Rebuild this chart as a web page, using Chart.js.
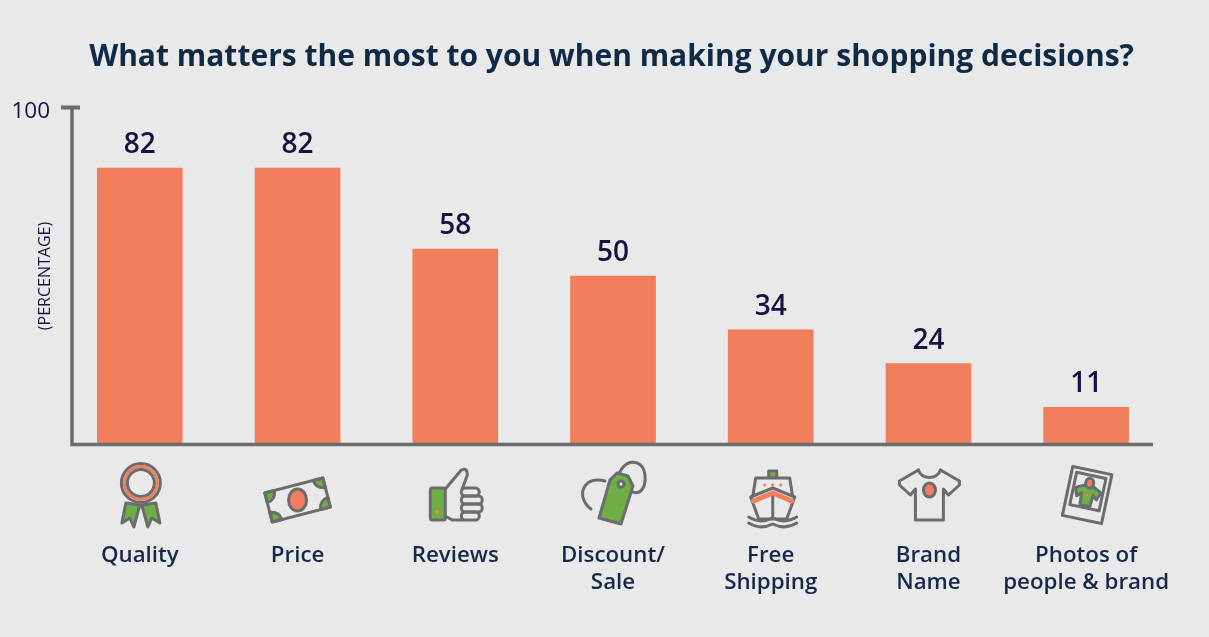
<!DOCTYPE html>
<html>
<head>
<meta charset="utf-8">
<title>Shopping decisions</title>
<script src="https://cdn.jsdelivr.net/npm/chart.js@4"></script>
<style>
    html, body { margin: 0; padding: 0; background: #e9e9e9; }
    canvas { display: block; }
</style>
</head>
<body>
<canvas id="chartDecisions" width="1209" height="637"></canvas>
<script>
const categories = [
    'Quality',
    'Price',
    'Reviews',
    ['Discount/', 'Sale'],
    ['Free', 'Shipping'],
    ['Brand', 'Name'],
    ['Photos of', 'people & brand']
];
const percentages = [82, 82, 58, 50, 34, 24, 11];
const yTicks = [100];

const GRAY = '#6b6c6e';
const GREEN = '#6fae44';
const ORANGE = '#f17e5c';
const NAVY = '#15133f';

function shape(ctx, pts, fill, close = true) {
    ctx.beginPath();
    pts.forEach((p, i) => i ? ctx.lineTo(p[0], p[1]) : ctx.moveTo(p[0], p[1]));
    if (close) ctx.closePath();
    if (fill) { ctx.fillStyle = fill; ctx.fill(); }
    ctx.stroke();
}

function dot(ctx, x, y, rx, ry, fill, stroke = true) {
    ctx.beginPath();
    ctx.ellipse(x, y, rx, ry, 0, 0, Math.PI * 2);
    if (fill) { ctx.fillStyle = fill; ctx.fill(); }
    if (stroke) ctx.stroke();
}

// los iconos van centrados en (0,0), 1 unidad = 1 px
const icons = [
    function ribbon(ctx) {
        shape(ctx, [[-15, 8], [-19, 28], [-11, 23], [-7, 32], [-1, 10]], GREEN);
        shape(ctx, [[15, 8], [19, 28], [11, 23], [7, 32], [1, 10]], GREEN);
        dot(ctx, 0, -12, 19.5, 19.5, '#e9e9e9');
        ctx.strokeStyle = ORANGE;
        dot(ctx, 0, -12, 16.5, 16.5);
        ctx.strokeStyle = GRAY;
        dot(ctx, 0, -12, 13.5, 13.5, '#e9e9e9');
    },
    function money(ctx) {
        ctx.rotate(-14.5 * Math.PI / 180);
        ctx.fillStyle = GREEN;
        [[-30, -15, 1, 1], [30, -15, -1, 1], [-30, 15, 1, -1], [30, 15, -1, -1]].forEach(c => {
            ctx.beginPath();
            ctx.moveTo(c[0], c[1]);
            ctx.lineTo(c[0] + c[2] * 10, c[1]);
            ctx.quadraticCurveTo(c[0] + c[2] * 9, c[1] + c[3] * 9, c[0], c[1] + c[3] * 10);
            ctx.closePath();
            ctx.fill();
            ctx.stroke();
        });
        ctx.strokeRect(-30, -15, 60, 30);
        ctx.rotate(14.5 * Math.PI / 180);
        dot(ctx, 0, 0, 9, 11, ORANGE);
    },
    function thumb(ctx) {
        ctx.beginPath();
        ctx.roundRect(-25, -7, 15, 32, 2);
        ctx.fillStyle = GREEN;
        ctx.fill();
        ctx.stroke();
        dot(ctx, -18, 17, 2, 2, ORANGE, false);
        ctx.beginPath();
        ctx.moveTo(-10, -6);
        ctx.lineTo(6, -25);
        ctx.quadraticCurveTo(12, -28, 12, -20);
        ctx.lineTo(7, -6);
        ctx.moveTo(-10, 21);
        ctx.lineTo(-3, 25);
        ctx.lineTo(8, 25);
        ctx.stroke();
        [-7, 1, 9, 17].forEach((y, i) => {
            ctx.beginPath();
            ctx.roundRect(6, y, i === 1 || i === 2 ? 21 : 18, 8, 4);
            ctx.stroke();
        });
    },
    function tag(ctx) {
        ctx.beginPath();
        ctx.moveTo(-22, 14);
        ctx.bezierCurveTo(-38, 2, -30, -20, -8, -14);
        ctx.stroke();
        ctx.beginPath();
        ctx.moveTo(4, -14);
        ctx.bezierCurveTo(8, -38, 30, -38, 32, -20);
        ctx.bezierCurveTo(33, -8, 28, 0, 20, -3);
        ctx.stroke();
        shape(ctx, [[-14, 23], [8, 29], [20, -9], [15, -19], [4, -22], [-3, -15]], GREEN);
        dot(ctx, 8, -11, 3, 3, '#e9e9e9');
    },
    function ship(ctx) {
        ctx.fillStyle = GREEN;
        ctx.fillRect(-4, -24, 8, 7);
        ctx.strokeRect(-4, -24, 8, 7);
        shape(ctx, [[-17, -17], [17, -17], [20, 2], [-20, 2]], '#e9e9e9');
        [-8, 0, 8].forEach(x => dot(ctx, x, -10, 1.6, 1.6, ORANGE, false));
        shape(ctx, [[-22, 2], [0, -7], [22, 2], [14, 24], [-14, 24]], '#e9e9e9');
        ctx.strokeStyle = ORANGE;
        ctx.lineWidth = 5;
        shape(ctx, [[-19, 6], [0, -2], [19, 6]], null, false);
        ctx.strokeStyle = GRAY;
        ctx.lineWidth = 3;
        shape(ctx, [[0, 2], [0, 22]], null, false);
        [24, 30].forEach(y => {
            ctx.beginPath();
            ctx.moveTo(-24, y - 2);
            ctx.bezierCurveTo(-16, y + 3, -8, y + 3, 0, y - 1);
            ctx.bezierCurveTo(8, y + 3, 16, y + 3, 24, y - 2);
            ctx.stroke();
        });
    },
    function shirt(ctx) {
        shape(ctx, [[-11, -25], [-30, -14], [-30, -10], [-19, 0], [-14, -6], [-14, 25], [14, 25], [14, -6], [19, 0], [30, -10], [30, -14], [11, -25]], null, false);
        ctx.beginPath();
        ctx.moveTo(-11, -25);
        ctx.bezierCurveTo(-8, -15, 8, -15, 11, -25);
        ctx.stroke();
        dot(ctx, 0, -5, 6, 7, ORANGE);
    },
    function photo(ctx) {
        ctx.rotate(12 * Math.PI / 180);
        ctx.strokeRect(-20, -25, 40, 50);
        ctx.strokeRect(-15, -20, 30, 33);
        shape(ctx, [[-5, -9], [-13, -5], [-10, 3], [-6, -1], [-5, 11], [5, 11], [6, -1], [10, 3], [13, -5], [5, -9]], GREEN);
        dot(ctx, 0, -12, 4, 5, ORANGE);
        dot(ctx, 0, 0, 1.6, 1.6, ORANGE, false);
    }
];
const iconOffsets = [[1, 0], [0, 5], [0, 0], [0, 0], [2, 0], [1, 0], [1, 0]];

const customDraw = {
    id: 'customDraw',
    afterLayout(chart) {
        // el título no se centra sobre el lienzo en el original
        chart.titleBlock.left = 14;
        chart.titleBlock.right = 1209;
    },
    beforeDraw(chart) {
        const { ctx, width, height } = chart;
        ctx.save();
        ctx.fillStyle = '#e9e9e9';
        ctx.fillRect(0, 0, width, height);
        ctx.restore();
    },
    afterDatasetsDraw(chart) {
        const { ctx, scales: { x, y } } = chart;
        const meta = chart.getDatasetMeta(0);
        const axisX = 72;

        ctx.save();
        ctx.strokeStyle = GRAY;
        ctx.lineWidth = 3.5;
        ctx.beginPath();
        ctx.moveTo(axisX, y.getPixelForValue(100));
        ctx.lineTo(axisX, y.getPixelForValue(0));
        ctx.lineTo(1153, y.getPixelForValue(0));
        ctx.stroke();
        ctx.lineWidth = 4;
        ctx.beginPath();
        ctx.moveTo(61, y.getPixelForValue(100));
        ctx.lineTo(80, y.getPixelForValue(100));
        ctx.stroke();

        ctx.fillStyle = NAVY;
        ctx.font = '600 28px "Open Sans"';
        ctx.textAlign = 'center';
        ctx.textBaseline = 'middle';
        meta.data.forEach((bar, i) => {
            ctx.fillText(percentages[i], bar.x, bar.y - 23);
        });

        icons.forEach((draw, i) => {
            ctx.save();
            ctx.translate(x.getPixelForValue(i) + iconOffsets[i][0], 495 + iconOffsets[i][1]);
            ctx.strokeStyle = GRAY;
            ctx.lineWidth = 3;
            ctx.lineJoin = 'round';
            ctx.lineCap = 'round';
            draw(ctx);
            ctx.restore();
        });
        ctx.restore();
    }
};

const chartDecisions = new Chart(document.getElementById('chartDecisions'), {
    type: 'bar',
    data: {
        labels: categories,
        datasets: [{
            data: percentages,
            backgroundColor: ORANGE,
            barThickness: 85,
            borderWidth: 0
        }]
    },
    plugins: [customDraw],
    options: {
        responsive: false,
        animation: false,
        layout: { padding: { top: 0, right: 44, bottom: 0, left: 0 } },
        plugins: {
            legend: { display: false },
            tooltip: { enabled: false },
            title: {
                display: true,
                text: 'What matters the most to you when making your shopping decisions?',
                color: '#0e2a47',
                font: { family: '"Open Sans"', size: 30, weight: 'bold', lineHeight: 1.2 },
                padding: { top: 39, bottom: 32.5 }
            }
        },
        scales: {
            x: {
                grid: { display: false, drawTicks: false },
                border: { display: false },
                afterFit(scale) {
                    scale.height = 192.5;
                    scale.paddingLeft = 0;
                    scale.paddingRight = 0;
                },
                ticks: {
                    autoSkip: false,
                    maxRotation: 0,
                    minRotation: 0,
                    padding: 97.5,
                    color: '#17294a',
                    font: { family: '"Open Sans"', size: 22.3, weight: '600', lineHeight: 1.21 }
                }
            },
            y: {
                min: 0,
                max: 100,
                grid: { display: false, drawTicks: false },
                border: { display: false },
                afterFit(scale) { scale.width = 61; },
                afterBuildTicks(scale) { scale.ticks = yTicks.map(value => ({ value })); },
                ticks: {
                    padding: 11,
                    labelOffset: 4,
                    color: NAVY,
                    font: { family: '"Open Sans"', size: 22.5 }
                },
                title: {
                    display: true,
                    text: '(PERCENTAGE)',
                    color: NAVY,
                    font: { family: '"Open Sans"', size: 16 },
                    padding: { top: 36, bottom: 0 }
                }
            }
        }
    }
});
</script>
</body>
</html>
